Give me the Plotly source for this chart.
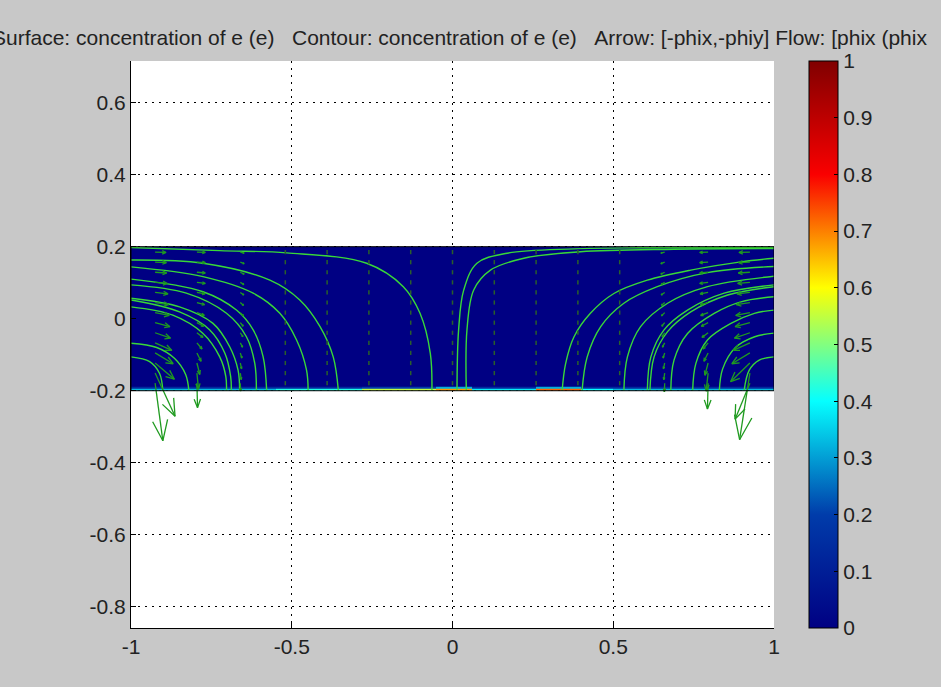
import numpy as np
import plotly.graph_objects as go
import plotly.figure_factory as ff

FONT = "Liberation Sans, Arial, Helvetica, sans-serif"

# ---------------- text / ticks ----------------
title_parts = ["Surface: concentration of e (e)", "Contour: concentration of e (e)",
               "Arrow: [-phix,-phiy]", "Flow: [phix (phix"]
title_seps = ["\u00a0\u00a0\u00a0", "\u00a0\u00a0\u00a0", "\u00a0"]
x_tick_vals = [-1, -0.5, 0, 0.5, 1]
x_tick_text = ["-1", "-0.5", "0", "0.5", "1"]
y_tick_vals = [-0.8, -0.6, -0.4, -0.2, 0, 0.2, 0.4, 0.6]
y_tick_text = ["-0.8", "-0.6", "-0.4", "-0.2", "0", "0.2", "0.4", "0.6"]
cb_tick_vals = [0, 0.1, 0.2, 0.3, 0.4, 0.5, 0.6, 0.7, 0.8, 0.9, 1]
cb_tick_text = ["0", "0.1", "0.2", "0.3", "0.4", "0.5", "0.6", "0.7", "0.8", "0.9", "1"]

# ---------------- surface (concentration of e) ----------------
surface_x_edges = [-1.0, -0.55, -0.28, -0.05, 0.06, 0.26, 0.40, 0.50, 1.0]
surface_y_edges = [-0.2, -0.195, -0.189, 0.2]
surface_z_bottom = [0.33, 0.42, 0.55, 0.68, 0.38, 0.72, 0.40, 0.33]
surface_z_edge = [0.14, 0.14, 0.20, 0.32, 0.14, 0.32, 0.14, 0.14]
surface_z_bulk = [0.0, 0.0, 0.0, 0.0, 0.0, 0.0, 0.0, 0.0]

# ---------------- flow lines ----------------
stream_x = [
    [-1.0, -0.724, -0.516, -0.267, -0.153, -0.101, -0.069, -0.064],
    [-1.0, -0.776, -0.568, -0.475, -0.412, -0.371, -0.355],
    [-1.0, -0.776, -0.620, -0.537, -0.485, -0.454, -0.449],
    [-1.0, -0.776, -0.672, -0.620, -0.589, -0.578],
    [-1.0, -0.828, -0.703, -0.641, -0.615, -0.610],
    [-1.0, -0.849, -0.745, -0.693, -0.667, -0.662],
    [-1.0, -0.849, -0.755, -0.708, -0.690, -0.688],
    [-1.0, -0.870, -0.776, -0.724, -0.705, -0.703],
    [-1.0, -0.920, -0.865, -0.830, -0.820],
    [-1.0, -0.942, -0.911, -0.901],
    [0.014, 0.019, 0.035, 0.076, 0.170, 0.378, 0.585, 1.0],
    [0.043, 0.045, 0.066, 0.118, 0.222, 0.398, 0.689, 1.0],
    [0.341, 0.352, 0.378, 0.429, 0.502, 0.606, 0.741, 0.897, 1.0],
    [0.403, 0.419, 0.461, 0.533, 0.637, 0.793, 1.0],
    [0.533, 0.544, 0.585, 0.669, 0.793, 1.0],
    [0.606, 0.617, 0.658, 0.731, 0.845, 1.0],
    [0.614, 0.627, 0.669, 0.741, 0.856, 1.0],
    [0.679, 0.689, 0.731, 0.814, 0.897, 1.0],
    [0.747, 0.757, 0.793, 0.866, 0.939, 1.0],
    [0.830, 0.840, 0.880, 0.940, 1.0],
    [0.907, 0.923, 0.954, 1.0],
]
stream_y = [
    [0.198, 0.189, 0.183, 0.154, 0.089, 0.015, -0.096, -0.2],
    [0.163, 0.154, 0.107, 0.052, -0.022, -0.106, -0.2],
    [0.144, 0.117, 0.071, 0.015, -0.059, -0.143, -0.2],
    [0.110, 0.075, 0.024, -0.031, -0.106, -0.2],
    [0.094, 0.071, 0.015, -0.050, -0.124, -0.2],
    [0.057, 0.033, -0.013, -0.078, -0.143, -0.2],
    [0.052, 0.019, -0.031, -0.096, -0.161, -0.2],
    [0.033, 0.010, -0.041, -0.106, -0.161, -0.2],
    [-0.068, -0.080, -0.110, -0.155, -0.2],
    [-0.106, -0.119, -0.152, -0.2],
    [-0.2, -0.031, 0.080, 0.154, 0.182, 0.194, 0.197, 0.198],
    [-0.2, -0.031, 0.080, 0.135, 0.168, 0.186, 0.193, 0.195],
    [-0.2, -0.124, -0.050, 0.015, 0.070, 0.107, 0.135, 0.158, 0.168],
    [-0.2, -0.106, -0.022, 0.043, 0.089, 0.128, 0.145],
    [-0.2, -0.106, -0.022, 0.043, 0.089, 0.118],
    [-0.2, -0.106, -0.031, 0.024, 0.071, 0.094],
    [-0.2, -0.106, -0.036, 0.019, 0.066, 0.089],
    [-0.2, -0.115, -0.041, 0.015, 0.047, 0.061],
    [-0.2, -0.124, -0.059, -0.013, 0.015, 0.024],
    [-0.2, -0.140, -0.080, -0.050, -0.040],
    [-0.2, -0.143, -0.115, -0.106],
]

# ---------------- arrow field [-phix, -phiy] ----------------
arrow_rows = [0.185, 0.157, 0.129, 0.101, 0.073, 0.045, 0.017,
              -0.011, -0.039, -0.067, -0.095, -0.123, -0.151, -0.179]
edge_cols = [-0.925, -0.795, -0.660, 0.660, 0.795, 0.925]
u_edge = [
    [0.034, 0.035, 0.036, 0.038, 0.040, 0.042, 0.044, 0.046, 0.048, 0.052, 0.056, 0.060, 0.062, 0.024],
    [0.026, 0.026, 0.026, 0.026, 0.025, 0.024, 0.023, 0.021, 0.019, 0.016, 0.013, 0.009, 0.005, 0.002],
    [0.012, 0.012, 0.012, 0.011, 0.011, 0.010, 0.010, 0.009, 0.008, 0.007, 0.005, 0.004, 0.003, 0.001],
    [-0.012, -0.012, -0.012, -0.011, -0.011, -0.010, -0.010, -0.009, -0.008, -0.007, -0.005, -0.004, -0.003, -0.001],
    [-0.026, -0.026, -0.026, -0.026, -0.025, -0.024, -0.023, -0.021, -0.019, -0.016, -0.013, -0.010, -0.006, -0.002],
    [-0.034, -0.035, -0.036, -0.038, -0.040, -0.042, -0.044, -0.046, -0.048, -0.052, -0.056, -0.060, -0.032, -0.046],
]
v_edge = [
    [-0.001, -0.001, -0.002, -0.003, -0.004, -0.006, -0.008, -0.011, -0.015, -0.021, -0.030, -0.045, -0.120, -0.160],
    [-0.001, -0.001, -0.002, -0.003, -0.004, -0.006, -0.008, -0.010, -0.013, -0.017, -0.023, -0.032, -0.045, -0.068],
    [-0.003, -0.004, -0.005, -0.006, -0.007, -0.008, -0.009, -0.010, -0.011, -0.012, -0.014, -0.016, -0.018, -0.022],
    [-0.003, -0.004, -0.005, -0.006, -0.007, -0.008, -0.009, -0.010, -0.011, -0.012, -0.014, -0.016, -0.018, -0.024],
    [-0.001, -0.001, -0.002, -0.003, -0.004, -0.006, -0.008, -0.010, -0.013, -0.017, -0.023, -0.034, -0.050, -0.072],
    [-0.001, -0.001, -0.002, -0.003, -0.004, -0.006, -0.008, -0.011, -0.015, -0.021, -0.030, -0.052, -0.185, -0.100],
]
inner_cols = [-0.52, -0.39, -0.26, -0.13, 0.0, 0.13, 0.26, 0.39, 0.52]

LINE_GREEN = "#38d838"
ARROW_GREEN = "#1f9a1f"

fig = go.Figure()

fig.add_trace(go.Heatmap(
    x=surface_x_edges, y=surface_y_edges,
    z=[surface_z_bottom, surface_z_edge, surface_z_bulk],
    colorscale="Jet", zmin=0, zmax=1, hoverinfo="skip",
    colorbar=dict(
        thickness=29, thicknessmode="pixels", len=1, lenmode="fraction",
        x=(809 - 131) / 643, xanchor="left", y=0.5, yanchor="middle",
        xpad=0, ypad=0, outlinewidth=1, outlinecolor="black",
        ticks="inside", ticklen=4, tickcolor="black",
        tickmode="array", tickvals=cb_tick_vals, ticktext=cb_tick_text,
        tickfont=dict(family=FONT, size=21, color="#222222"),
    ),
))

for sx, sy in zip(stream_x, stream_y):
    fig.add_trace(go.Scatter(
        x=sx, y=sy, mode="lines",
        line=dict(color=LINE_GREEN, width=1.4, shape="spline", smoothing=1.0),
        showlegend=False, hoverinfo="skip",
    ))

# tiny interior arrows (appear as short dashes)
gx, gy = np.meshgrid(inner_cols, arrow_rows)
fig.add_trace(go.Scatter(
    x=gx.ravel(), y=gy.ravel(), mode="markers",
    marker=dict(symbol="line-ns", size=3, line=dict(width=1.5, color="#2a5f2a")),
    showlegend=False, hoverinfo="skip",
))

# larger arrows near the side walls
ax_list, ay_list, au_list, av_list = [], [], [], []
for cx, uc, vc in zip(edge_cols, u_edge, v_edge):
    for ry, uu, vv in zip(arrow_rows, uc, vc):
        ax_list.append(cx)
        ay_list.append(ry)
        au_list.append(uu)
        av_list.append(vv)
q = ff.create_quiver(ax_list, ay_list, au_list, av_list, scale=1,
                     arrow_scale=0.38, angle=np.pi / 8,
                     line=dict(color=ARROW_GREEN, width=1.3))
for tr in q.data:
    tr.showlegend = False
    tr.hoverinfo = "skip"
    fig.add_trace(tr)

# domain outline
fig.add_shape(type="rect", xref="x", yref="y",
              x0=surface_x_edges[0], x1=surface_x_edges[-1],
              y0=surface_y_edges[0], y1=surface_y_edges[-1],
              line=dict(color="black", width=1), layer="above")

title_text = title_parts[0]
for sep, part in zip(title_seps, title_parts[1:]):
    title_text += sep + part
fig.add_annotation(
    text=title_text, xref="paper", yref="paper",
    x=(-9 - 131) / 643, y=1 + (61 - 37) / 567, xanchor="left", yanchor="middle",
    showarrow=False, borderpad=0,
    font=dict(family=FONT, size=21, color="#222222"),
)

axis_common = dict(
    showline=True, linecolor="black", linewidth=1, mirror=False,
    ticks="inside", ticklen=5, tickcolor="black",
    showgrid=True, gridcolor="black", gridwidth=1, griddash="2px,5px",
    zeroline=False, tickmode="array",
    tickfont=dict(family=FONT, size=21, color="#222222"),
)
fig.update_xaxes(range=[-1, 1], tickvals=x_tick_vals, ticktext=x_tick_text, **axis_common)
fig.update_yaxes(range=[-0.859, 0.7158], tickvals=y_tick_vals, ticktext=y_tick_text, **axis_common)

fig.update_layout(
    width=941, height=687, autosize=False,
    margin=dict(l=131, r=167, t=61, b=59, pad=0),
    paper_bgcolor="#c8c8c8", plot_bgcolor="white",
    showlegend=False,
    font=dict(family=FONT, size=21, color="#222222"),
)

fig.write_html(
    "out.html",
    config={"displayModeBar": False},
    post_script="document.body.style.margin='0px';document.body.style.padding='0px';"
                "document.body.style.background='#c8c8c8';document.body.style.overflow='hidden';",
)
